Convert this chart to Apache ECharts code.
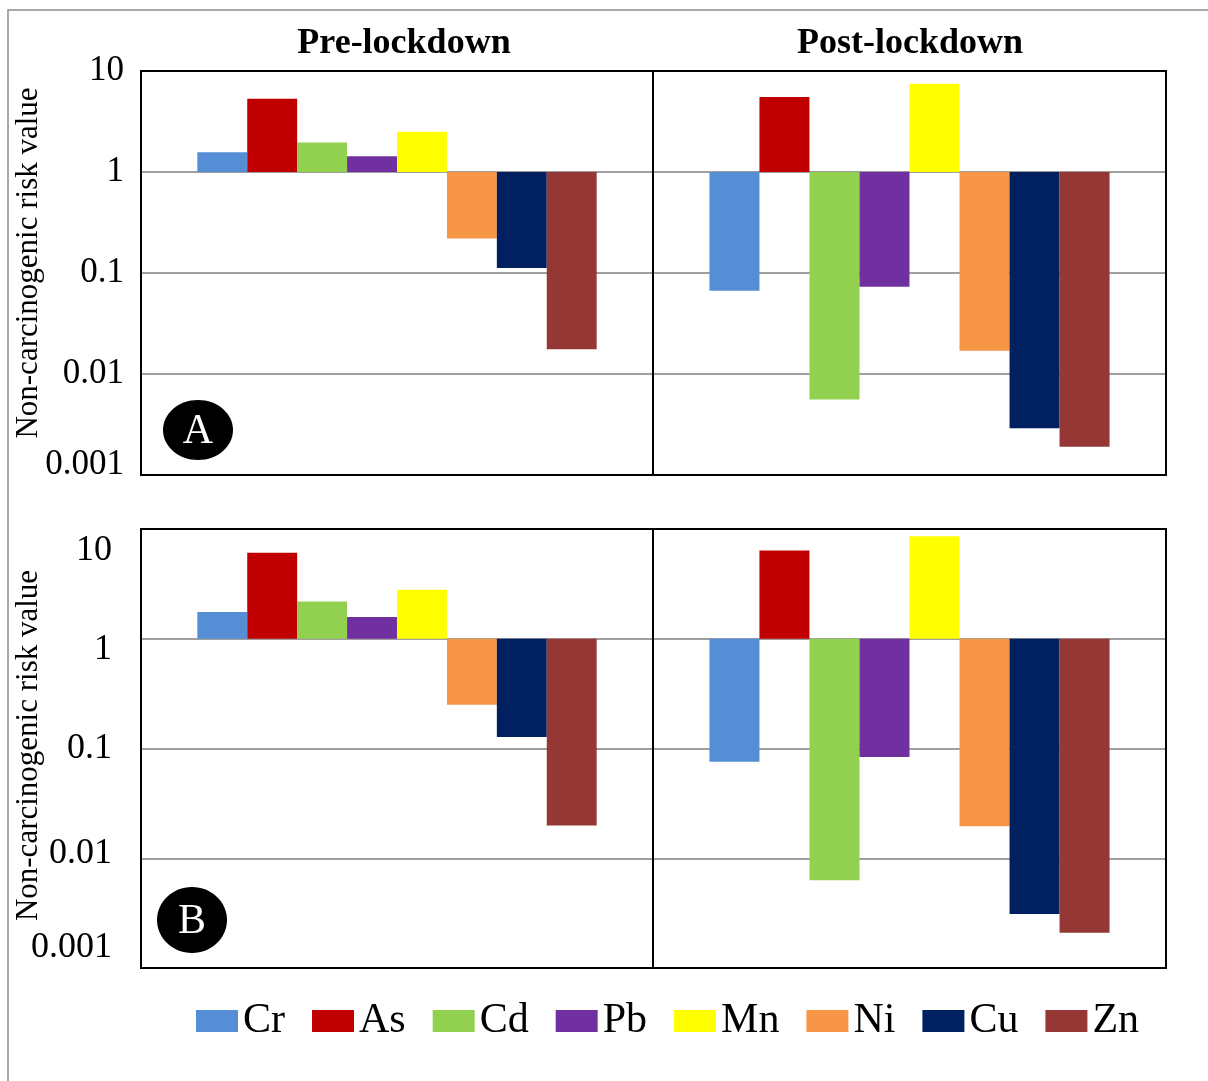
<!DOCTYPE html>
<html>
<head>
<meta charset="utf-8">
<script src="https://cdn.jsdelivr.net/npm/echarts@6/dist/echarts.min.js"></script>
<style>
html,body{margin:0;padding:0;background:#fff;}
#chart{width:1208px;height:1081px;}
</style>
</head>
<body>
<div id="chart"></div>
<script>
// ---- data ----
const elements = ['Cr', 'As', 'Cd', 'Pb', 'Mn', 'Ni', 'Cu', 'Zn'];
const panelTitles = ['Pre-lockdown', 'Post-lockdown'];
const panelLetters = ['A', 'B'];
const yTickLabels = ['0.001', '0.01', '0.1', '1', '10'];
const yAxisTitle = 'Non-carcinogenic risk value';
const aPre  = [1.57, 5.32, 1.96, 1.43, 2.5, 0.219, 0.112, 0.0176];
const aPost = [0.0667, 5.52, 0.0056, 0.073, 7.48, 0.017, 0.0029, 0.0019];
const bPre  = [1.75, 6.06, 2.19, 1.58, 2.8, 0.251, 0.127, 0.0199];
const bPost = [0.0757, 6.36, 0.0063, 0.0836, 8.6, 0.0196, 0.0031, 0.0021];

// ---- style ----
const colors = ['#558ED5', '#C00000', '#92D050', '#7030A0', '#FFFF00', '#F79646', '#002060', '#953735'];
const FONT = '"Liberation Serif", "DejaVu Serif", serif';
const panels = [aPre, aPost, bPre, bPost];
const grids = [
  {left: 141, top: 71, width: 512, height: 404},
  {left: 653, top: 71, width: 513, height: 404},
  {left: 141, top: 529, width: 512, height: 439},
  {left: 653, top: 529, width: 513, height: 439}
];
// label vertical shifts (px, + = down) per tick, for the left axes
const labelShift = [
  [-10, 0, 0, 0, 0],
  [-20, -5, 0, 11, 22]
];
const labelSize = [35, 36];
const labelMargin = [17, 29];
const namePad = [[0, 0, 0, 20], [0, 0, 0, 6]];

function tickIndex(v) { return Math.round(Math.log10(v)) + 3; }

const xAxes = grids.map((g, i) => ({
  type: 'category', gridIndex: i, data: [''], show: false
}));

const yAxes = grids.map((g, i) => {
  const isLeft = (i % 2 === 0);
  const row = Math.floor(i / 2);
  const rich = {};
  labelShift[row].forEach((s, k) => {
    rich['t' + k] = {
      fontFamily: FONT, fontSize: labelSize[row], color: '#000',
      padding: s >= 0 ? [2 * s, 0, 0, 0] : [0, 0, -2 * s, 0]
    };
  });
  return {
    type: 'log', logBase: 10, gridIndex: i, min: 0.001, max: 10,
    axisLine: {show: false}, axisTick: {show: false},
    splitLine: {show: true, lineStyle: {color: '#7f7f7f', width: 1.5}},
    axisLabel: {
      show: isLeft, margin: labelMargin[row],
      fontFamily: FONT, fontSize: labelSize[row], color: '#000',
      formatter: v => { const k = tickIndex(v); return '{t' + k + '|' + yTickLabels[k] + '}'; },
      rich: rich
    },
    name: isLeft ? yAxisTitle : '',
    nameLocation: 'middle', nameRotate: 90, nameGap: 97,
    nameMoveOverlap: false,
    nameTextStyle: {fontFamily: FONT, fontSize: 31, color: '#000', padding: namePad[row]}
  };
});

const series = [];
panels.forEach((vals, p) => {
  elements.forEach((el, i) => {
    series.push({
      type: 'bar', name: el, xAxisIndex: p, yAxisIndex: p,
      data: [vals[i]],
      itemStyle: {color: colors[i]},
      barGap: '0%', barCategoryGap: '22%',
      silent: true
    });
  });
});

const option = {
  animation: false,
  backgroundColor: '#fff',
  color: colors,
  title: panelTitles.map((t, i) => ({
    text: t,
    left: i === 0 ? 399 : 905, top: 21, textAlign: 'center',
    textStyle: {fontFamily: FONT, fontSize: 36, fontWeight: 'bold', color: '#000'}
  })),
  legend: {
    data: elements, left: 196, top: 1000, padding: 0,
    itemWidth: 42, itemHeight: 22, itemGap: 27,
    icon: 'rect',
    textStyle: {fontFamily: FONT, fontSize: 42, color: '#000'}
  },
  grid: grids.map(g => Object.assign({show: true, borderColor: '#000', borderWidth: 2, backgroundColor: 'transparent', z: 10}, g)),
  xAxis: xAxes,
  yAxis: yAxes,
  series: series,
  graphic: [
    {type: 'polyline', shape: {points: [[8, 1081], [8, 10], [1208, 10]]}, style: {stroke: '#8c8c8c', lineWidth: 1.5, fill: null}, silent: true},
    {type: 'ellipse', shape: {cx: 198, cy: 430, rx: 35, ry: 30}, style: {fill: '#000'}, silent: true, z: 20},
    {type: 'text', x: 198, y: 432, style: {text: panelLetters[0], fill: '#fff', font: '42px ' + FONT, textAlign: 'center', textVerticalAlign: 'middle'}, silent: true, z: 21},
    {type: 'ellipse', shape: {cx: 192, cy: 920, rx: 35, ry: 33}, style: {fill: '#000'}, silent: true, z: 20},
    {type: 'text', x: 192, y: 922, style: {text: panelLetters[1], fill: '#fff', font: '42px ' + FONT, textAlign: 'center', textVerticalAlign: 'middle'}, silent: true, z: 21}
  ]
};

const chart = echarts.init(document.getElementById('chart'), null, {renderer: 'canvas'});
chart.setOption(option);
</script>
</body>
</html>
